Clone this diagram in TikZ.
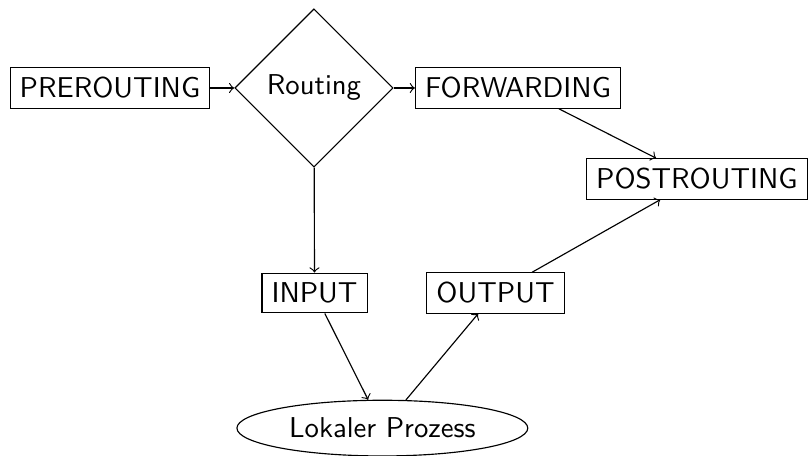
\documentclass[tikz,border=0pt]{standalone}
\usepackage{tikz}
\usetikzlibrary{shapes.geometric}

\begin{document}
\begin{tikzpicture}[font=\sffamily,
    kette/.style={rectangle,draw},
    entscheid/.style={diamond,draw},
    prozess/.style={ellipse,draw}]
\useasboundingbox (0,0) rectangle (9.902,-5.581);
      \node [kette] at (1.346,-1.077) (prerouting) {PREROUTING};
       \node [entscheid] at (3.843,-1.077) (routing) {Routing};
        \node [kette] at (6.34,-1.077) (forwarding) {FORWARDING};
         \node [kette] at (8.53,-2.19) (postrouting) {POSTROUTING};
          \node [kette] at (3.85,-3.586) (input) {INPUT};
           \node [kette] at (6.065,-3.586) (output) {OUTPUT};
            \node [prozess] at (4.68,-5.24) (lokal) {Lokaler Prozess};
%
%
\path[->] (prerouting) edge (routing);
\path[->] (routing) edge (forwarding);
\path[->] (forwarding) edge (postrouting);
\path[->] (routing) edge (input);
\path[->] (input) edge (lokal);
\path[->] (lokal) edge (output);
\path[->] (output) edge (postrouting);

\end{tikzpicture}
\end{document}
